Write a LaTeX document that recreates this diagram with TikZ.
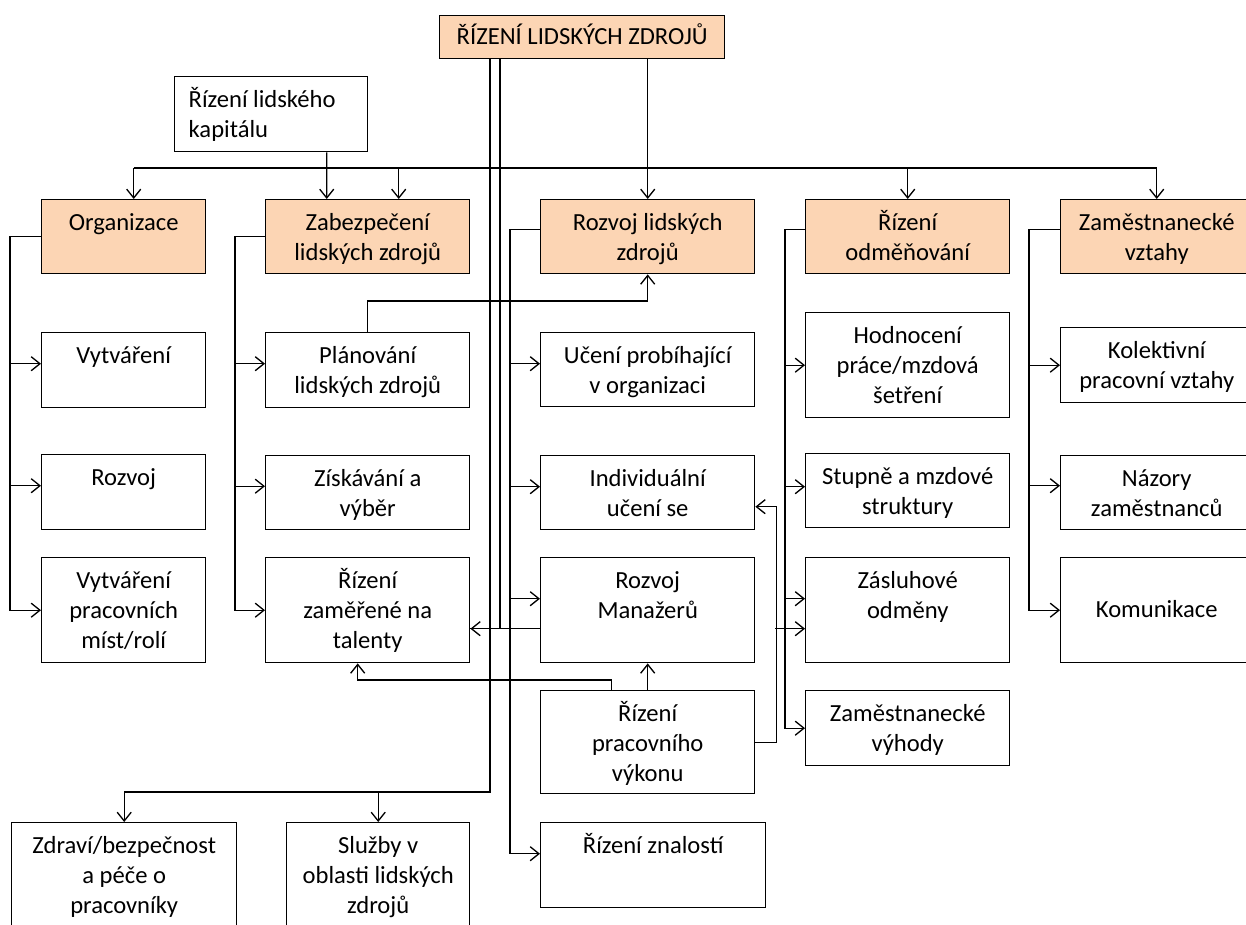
\documentclass[tikz,border=0pt]{standalone}
\usepackage{fontspec}
\setmainfont{Carlito}
\usetikzlibrary{arrows.meta}
\definecolor{peach}{HTML}{FCD5B4}
\newcommand{\boxfont}{\fontsize{14}{17}\selectfont}
\tikzset{
	box/.style 2 args={draw, line width=0.8pt, anchor=north west, align=flush center,
		inner xsep=2pt, inner ysep=0pt, text width=#1*0.02cm-4pt,
		text height=0.62cm, text depth=#2*0.02cm-0.62cm, font=\boxfont},
	area/.style 2 args={box={#1}{#2}, fill=peach},
	link/.style={line width=0.75pt},
	arr/.style={link, -{Straight Barb[length=5pt,width=8pt]}},
}

\begin{document}
\begin{tikzpicture}[x=0.02cm, y=-0.02cm]
	\clip (0,0) rectangle (1246,925);

	\node[area={285}{43}, text height=0.58cm, text depth=0.28cm] (hrm) at (439,15) {ŘÍZENÍ LIDSKÝCH ZDROJŮ};
	\node[box={193}{75}, align=flush left, inner xsep=0.28cm, text width=3.3cm] (kap) at (174,76) {Řízení lidského\\kapitálu};

	\node[area={164}{74}] (org) at (41,199) {Organizace};
	\node[area={204}{74}] (zab) at (265,199) {Zabezpečení\\lidských zdrojů};
	\node[area={214}{74}] (rlz) at (540,199) {Rozvoj lidských\\zdrojů};
	\node[area={204}{74}] (odm) at (805,199) {Řízení\\odměňování};
	\node[area={192}{74}] (zv) at (1060,199) {Zaměstnanecké\\vztahy};

	\node[box={164}{75}] (vyt) at (41,332) {Vytváření};
	\node[box={164}{75}] (roz) at (41,454) {Rozvoj};
	\node[box={164}{105}] (vpm) at (41,557) {Vytváření\\pracovních\\míst/rolí};

	\node[box={204}{75}] (pla) at (265,332) {Plánování\\lidských zdrojů};
	\node[box={204}{74}] (zis) at (265,455) {Získávání a\\výběr};
	\node[box={204}{105}] (tal) at (265,557) {Řízení\\zaměřené na\\talenty};

	\node[box={214}{74}] (uce) at (540,332) {Učení probíhající\\v organizaci};
	\node[box={214}{74}] (ind) at (540,455) {Individuální\\učení se};
	\node[box={214}{105}] (man) at (540,557) {Rozvoj\\Manažerů};
	\node[box={214}{103}] (vyk) at (540,690) {Řízení\\pracovního\\výkonu};
	\node[box={225}{85}] (zna) at (540,822) {Řízení znalostí};

	\node[box={204}{105}] (hod) at (805,312) {Hodnocení\\práce/mzdová\\šetření};
	\node[box={204}{74}] (stu) at (805,453) {Stupně a mzdové\\struktury};
	\node[box={204}{105}] (zas) at (805,557) {Zásluhové\\odměny};
	\node[box={204}{75}] (vyh) at (805,690) {Zaměstnanecké\\výhody};

	\node[box={192}{75}] (kol) at (1060,327) {Kolektivní\\pracovní vztahy};
	\node[box={192}{74}] (naz) at (1060,455) {Názory\\zaměstnanců};
	\node[box={192}{105}, text height=1.2cm, text depth=0.9cm] (kom) at (1060,557) {Komunikace};

	\node[box={225}{110}] (zdr) at (11,822) {Zdraví/bezpečnost\\a péče o\\pracovníky};
	\node[box={183}{110}] (slu) at (286,822) {Služby v\\oblasti lidských\\zdrojů};

	\coordinate (bus) at ([xshift=0.2cm, yshift=0.62cm]org.north);
	\draw[link] (bus) -- (bus -| zv.north);
	\draw[arr] (bus) -- ([xshift=0.2cm]org.north);
	\draw[arr] ([xshift=0.62cm]zab.north) ++(0,-31) -- ([xshift=0.62cm]zab.north);
	\draw[arr] (bus -| odm.north) -- (odm.north);
	\draw[arr] (bus -| zv.north) -- (zv.north);
	\draw[arr] ([xshift=1.11cm]kap.south) -- ([xshift=-0.82cm]zab.north);
	\draw[arr] (hrm.south -| rlz.north) -- (rlz.north);

	\coordinate (manout) at ([yshift=-0.37cm]man.west);
	\coordinate (talin) at ([yshift=-0.37cm]tal.east);
	\draw[arr] (manout) -- (talin);
	\draw[link] ([xshift=1.22cm]hrm.south west) |- (talin);
	\draw[arr] ([xshift=1.02cm]hrm.south west) |- ([yshift=0.6cm]zdr.north) -- (zdr.north);
	\draw[arr] ([yshift=0.6cm]slu.north) -- (slu.north);

	\draw[arr] (org.west) -- ++(-31,0) |- (vpm.west);
	\foreach \n in {vyt,roz}
		\draw[arr] ([yshift=0.13cm]\n.west) ++(-31,0) -- ([yshift=0.13cm]\n.west);

	\draw[arr] (zab.west) -- ++(-30,0) |- (tal.west);
	\foreach \n in {pla,zis}
		\draw[arr] ([yshift=0.13cm]\n.west) ++(-30,0) -- ([yshift=0.13cm]\n.west);

	\draw[arr] ([yshift=0.14cm]rlz.west) -- ++(-30,0) |- ([yshift=0.23cm]zna.west);
	\foreach \n/\s in {uce/0.12cm,ind/0.12cm,man/0.23cm}
		\draw[arr] ([yshift=\s]\n.west) ++(-30,0) -- ([yshift=\s]\n.west);

	\draw[arr] ([yshift=0.14cm]odm.west) -- ++(-20,0) |- (vyh.west);
	\foreach \n/\s in {hod/0cm,stu/0.08cm,zas/0.23cm}
		\draw[arr] ([yshift=\s]\n.west) ++(-20,0) -- ([yshift=\s]\n.west);

	\draw[arr] ([yshift=0.14cm]zv.west) -- ++(-31,0) |- (kom.west);
	\foreach \n/\s in {kol/0cm,naz/0.14cm}
		\draw[arr] ([yshift=\s]\n.west) ++(-31,0) -- ([yshift=\s]\n.west);

	\draw[arr] (pla.north) -- ++(0,-31) -| (rlz.south);
	\draw[arr] (vyk.north) -- (man.south);
	\draw[arr] ([xshift=-0.72cm]vyk.north) -- ++(0,-10) -| ([xshift=-0.2cm]tal.south);
	\draw[arr] (vyk.east) -- ++(21,0) |- ([yshift=-0.28cm]ind.east);
	\coordinate (zasin) at ([yshift=-0.37cm]zas.west);
	\draw[arr] (zasin) ++(-30,0) -- (zasin);
\end{tikzpicture}
\end{document}
